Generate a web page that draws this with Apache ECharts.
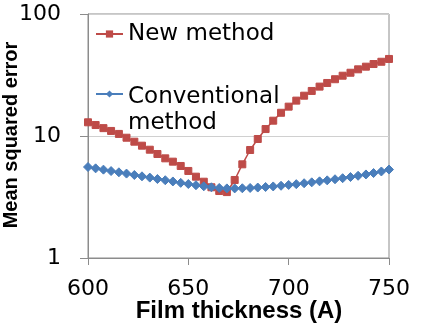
<!DOCTYPE html>
<html>
<head>
<meta charset="utf-8">
<script src="https://cdn.jsdelivr.net/npm/echarts@6/dist/echarts.min.js"></script>
<style>html,body{margin:0;padding:0;background:#fff}#c{width:436px;height:326px}</style>
</head>
<body>
<div id="c"></div>
<script>
var thickness = [600, 603.8, 607.7, 611.5, 615.4, 619.2, 623.1, 626.9, 630.8, 634.6,
  638.5, 642.3, 646.2, 650, 653.8, 657.7, 661.5, 665.4, 669.2, 673.1,
  676.9, 680.8, 684.6, 688.5, 692.3, 696.2, 700, 703.8, 707.7, 711.5,
  715.4, 719.2, 723.1, 726.9, 730.8, 734.6, 738.5, 742.3, 746.2, 750];
var newMethod = [12.95, 12.3, 11.6, 11.0, 10.4, 9.68, 8.98, 8.33, 7.72, 7.12,
  6.56, 6.16, 5.68, 5.17, 4.64, 4.22, 3.80, 3.54, 3.47, 4.36,
  5.86, 7.68, 9.45, 11.4, 13.35, 15.5, 17.4, 19.5, 21.4, 23.4,
  25.4, 27.2, 29.2, 31.2, 33.0, 35.2, 37.0, 38.9, 40.6, 42.8];
var conventional = [5.57, 5.43, 5.30, 5.16, 5.04, 4.92, 4.79, 4.67, 4.56, 4.44,
  4.34, 4.24, 4.13, 4.04, 3.95, 3.87, 3.80, 3.75, 3.72, 3.72,
  3.73, 3.75, 3.78, 3.82, 3.86, 3.91, 3.97, 4.03, 4.10, 4.17,
  4.25, 4.33, 4.42, 4.51, 4.61, 4.72, 4.84, 4.97, 5.12, 5.31];
var xTicks = [600, 650, 700, 750];
var yTicks = [1, 10, 100];
var xTitle = 'Film thickness (A)';
var yTitle = 'Mean squared error';

function pairs(xs, ys) { return xs.map(function (x, i) { return [x, ys[i]]; }); }

var chart = echarts.init(document.getElementById('c'), null, {renderer: 'canvas'});
chart.setOption({
  animation: false,
  backgroundColor: '#ffffff',
  grid: {left: 88, right: 47, top: 14, bottom: 68, containLabel: false, outerBoundsMode: 'none',
    show: true, borderColor: '#8c8c8c', borderWidth: 1, backgroundColor: 'transparent'},
  graphic: [{
    type: 'text', x: 239, y: 311, z: 10,
    style: {text: xTitle, fontFamily: 'Liberation Sans', fontWeight: 'bold', fontSize: 24, fill: '#000',
      align: 'center', verticalAlign: 'middle'}
  }, {
    type: 'text', x: 11, y: 135, rotation: Math.PI / 2, z: 10,
    style: {text: yTitle, fontFamily: 'Liberation Sans', fontWeight: 'bold', fontSize: 20, fill: '#000',
      align: 'center', verticalAlign: 'middle'}
  }],
  legend: [{
    data: ['New method'], orient: 'vertical', left: 90, top: 16,
    itemWidth: 27, itemHeight: 9,
    textStyle: {fontFamily: 'DejaVu Sans', fontSize: 23, color: '#000', lineHeight: 26}
  }, {
    data: ['Conventional method'], orient: 'vertical', left: 90, top: 47,
    itemWidth: 27, itemHeight: 9,
    formatter: function (n) { return '{e| }\n{t|Conventional}\n{t|method}'; },
    textStyle: {fontFamily: 'DejaVu Sans', fontSize: 23, color: '#000', lineHeight: 26,
      rich: {e: {fontSize: 23, lineHeight: 32}, t: {fontFamily: 'DejaVu Sans', fontSize: 23, color: '#000', lineHeight: 26}}}
  }],
  xAxis: {
    type: 'value', min: xTicks[0], max: xTicks[xTicks.length - 1], interval: 50,
    axisLine: {show: true, lineStyle: {color: '#8c8c8c', width: 1}},
    axisTick: {show: true, length: 7, lineStyle: {color: '#8c8c8c'}},
    axisLabel: {fontFamily: 'DejaVu Sans', fontSize: 22, color: '#000', margin: 20,
      formatter: function (v) { return xTicks.indexOf(v) >= 0 ? String(v) : ''; }},
    splitLine: {show: false}
  },
  yAxis: {
    type: 'log', logBase: 10, min: yTicks[0], max: yTicks[yTicks.length - 1],
    axisLine: {show: true, lineStyle: {color: '#8c8c8c', width: 1}},
    axisTick: {show: true, length: 8, lineStyle: {color: '#8c8c8c'}},
    axisLabel: {fontFamily: 'DejaVu Sans', fontSize: 22, color: '#000', margin: 27},
    splitLine: {show: true, lineStyle: {color: '#d0d0d0', width: 1}}
  },
  series: [{
    name: 'New method', type: 'line', data: pairs(thickness, newMethod),
    symbol: 'rect', symbolSize: 7, showAllSymbol: true,
    lineStyle: {color: '#BE4B48', width: 1.5},
    itemStyle: {color: '#BE4B48', borderColor: '#BE4B48'}
  }, {
    name: 'Conventional method', type: 'line', data: pairs(thickness, conventional),
    symbol: 'diamond', symbolSize: 9, showAllSymbol: true,
    lineStyle: {color: '#4A7EBB', width: 1.5},
    itemStyle: {color: '#4A7EBB', borderColor: '#4A7EBB'}
  }]
});
</script>
</body>
</html>
